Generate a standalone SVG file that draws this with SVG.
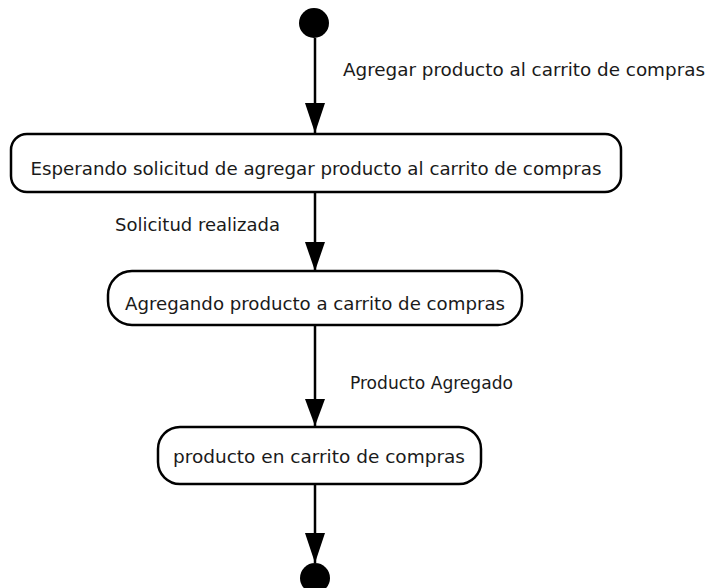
<svg xmlns="http://www.w3.org/2000/svg" width="709" height="588" viewBox="0 0 709 588">
<style>
.st{fill:#fff;stroke:#000;stroke-width:2.5}
.t{font-family:"DejaVu Sans Condensed","DejaVu Sans",sans-serif;font-size:17px;fill:#1a1a1a}
.c{stroke:#000;stroke-width:2.5;fill:none}
.ah{fill:#000}
.dot{fill:#000}
</style>
<rect width="709" height="588" fill="#fff"/>
<g id="connectors">
<line class="c" x1="315" y1="38" x2="315" y2="133"/>
<path class="ah" d="M305,103 L325,103 L315,133 Z"/>
<line class="c" x1="315" y1="192" x2="315" y2="271"/>
<path class="ah" d="M305,242 L325,242 L315,271 Z"/>
<line class="c" x1="315" y1="325" x2="315" y2="426"/>
<path class="ah" d="M305,399 L325,399 L315,426 Z"/>
<line class="c" x1="315" y1="484" x2="315" y2="563"/>
<path class="ah" d="M305,533 L325,533 L315,563 Z"/>
<text class="t" x="343" y="76" textLength="362" lengthAdjust="spacingAndGlyphs">Agregar producto al carrito de compras</text>
<text class="t" x="115" y="231" textLength="165" lengthAdjust="spacingAndGlyphs">Solicitud realizada</text>
<text class="t" x="350" y="389" textLength="163" lengthAdjust="spacingAndGlyphs">Producto Agregado</text>
</g>
<g id="start">
<circle class="dot" cx="314" cy="23" r="15"/>
</g>
<g id="s1">
<rect class="st" x="11" y="134" width="610" height="58" rx="16" ry="16"/>
<text class="t" x="316" y="175" text-anchor="middle" textLength="571" lengthAdjust="spacingAndGlyphs">Esperando solicitud de agregar producto al carrito de compras</text>
</g>
<g id="s2">
<rect class="st" x="108" y="271" width="414" height="54" rx="24" ry="24"/>
<text class="t" x="315" y="310" text-anchor="middle" textLength="380" lengthAdjust="spacingAndGlyphs">Agregando producto a carrito de compras</text>
</g>
<g id="s3">
<rect class="st" x="158" y="427" width="323" height="57" rx="22" ry="22"/>
<text class="t" x="319" y="463" text-anchor="middle" textLength="292" lengthAdjust="spacingAndGlyphs">producto en carrito de compras</text>
</g>
<g id="end">
<circle class="dot" cx="315" cy="578" r="15"/>
</g>
</svg>
